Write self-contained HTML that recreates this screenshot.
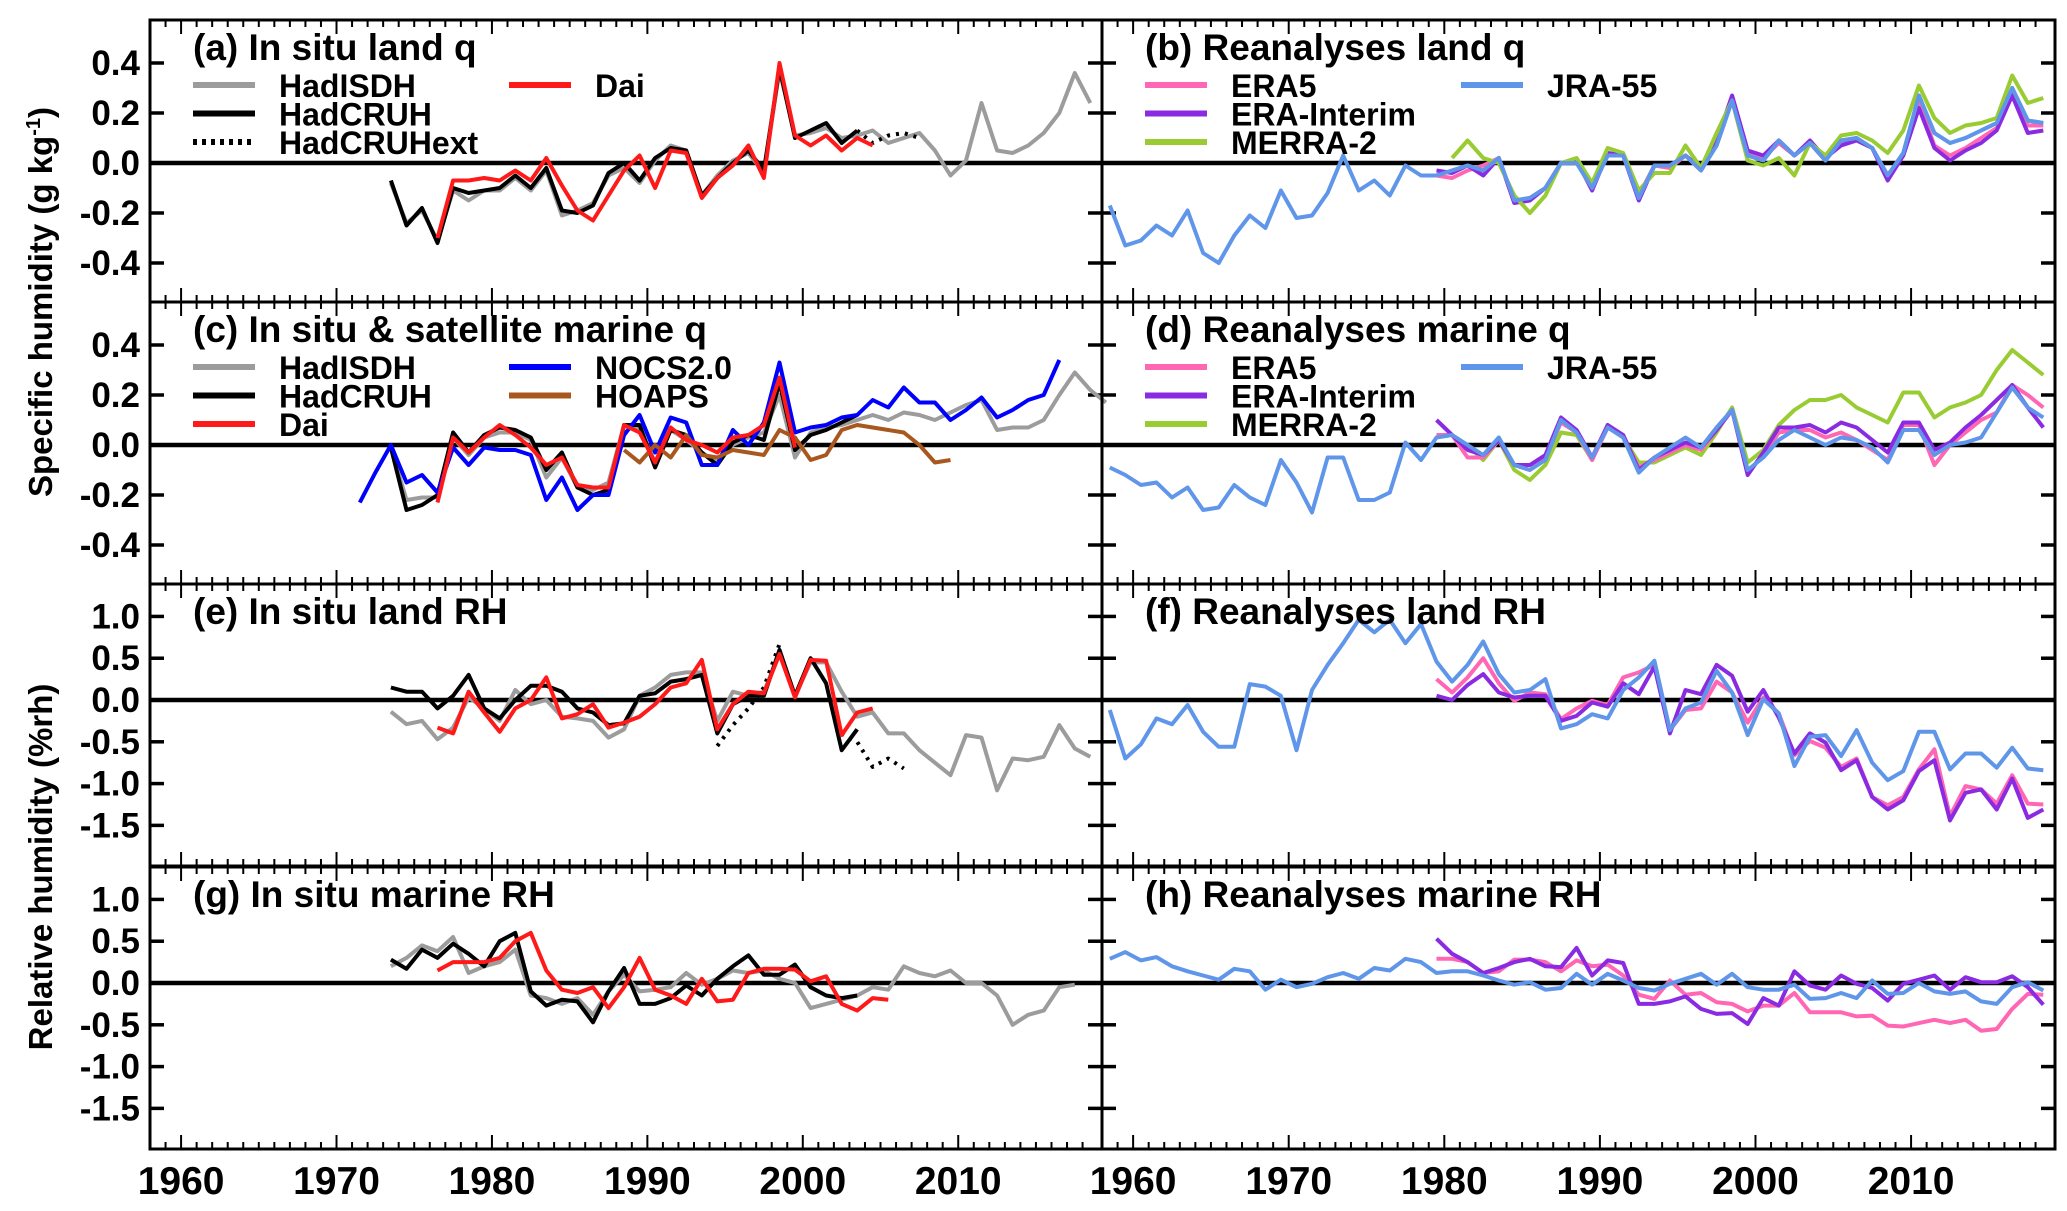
<!DOCTYPE html>
<html><head><meta charset="utf-8"><style>
html,body{margin:0;padding:0;background:#fff;}
svg{display:block;font-family:"Liberation Sans",sans-serif;font-weight:bold;}
</style></head><body>
<svg id="chart" width="2067" height="1211" viewBox="0 0 2067 1211" xmlns="http://www.w3.org/2000/svg">
<rect width="2067" height="1211" fill="#fff"/>
<text transform="translate(52,302) rotate(-90)" text-anchor="middle" font-size="33" font-family="Liberation Sans" font-weight="bold">Specific humidity (g kg<tspan font-size="20" dy="-12">-1</tspan><tspan dy="12">)</tspan></text>
<text transform="translate(52,867) rotate(-90)" text-anchor="middle" font-size="33" font-family="Liberation Sans" font-weight="bold">Relative humidity (%rh)</text>
<g id="plots"></g>
</svg>
<script>
// ---- data (annual anomalies, plotted at mid-year) ----
const aHadISDHStart=1973;
const aHadISDH=[-0.08,-0.24,-0.19,-0.31,-0.11,-0.15,-0.11,-0.11,-0.06,-0.11,-0.03,-0.21,-0.19,-0.16,-0.05,-0.02,-0.08,0.01,0.07,0.05,-0.13,-0.05,0.01,0.04,-0.04,0.37,0.11,0.12,0.14,0.10,0.11,0.13,0.08,0.10,0.12,0.05,-0.05,0.01,0.24,0.05,0.04,0.07,0.12,0.20,0.36,0.24];
const aHadCRUHStart=1973;
const aHadCRUH=[-0.07,-0.25,-0.18,-0.32,-0.10,-0.12,-0.11,-0.10,-0.05,-0.10,-0.02,-0.19,-0.20,-0.17,-0.04,0.00,-0.07,0.02,0.06,0.05,-0.13,-0.06,0.00,0.05,-0.03,0.38,0.10,0.13,0.16,0.08,0.13];
const aHadCRUHextStart=2003;
const aHadCRUHext=[0.13,0.08,0.11,0.12,0.10];
const aDaiStart=1976;
const aDai=[-0.30,-0.07,-0.07,-0.06,-0.07,-0.03,-0.07,0.02,-0.09,-0.19,-0.23,-0.13,-0.03,0.03,-0.10,0.05,0.04,-0.14,-0.06,-0.01,0.07,-0.06,0.40,0.11,0.07,0.11,0.05,0.10,0.07];

const bJRAStart=1958;
const bJRA=[-0.17,-0.33,-0.31,-0.25,-0.29,-0.19,-0.36,-0.40,-0.29,-0.21,-0.26,-0.11,-0.22,-0.21,-0.12,0.03,-0.11,-0.07,-0.13,-0.01,-0.05,-0.05,-0.03,-0.01,-0.03,0.02,-0.15,-0.14,-0.10,0.00,0.00,-0.10,0.03,0.03,-0.14,-0.01,-0.01,0.03,-0.03,0.07,0.25,0.03,0.01,0.09,0.03,0.08,0.01,0.09,0.10,0.06,-0.05,0.04,0.27,0.12,0.08,0.10,0.13,0.16,0.30,0.17,0.16];
const bERA5Start=1979;
const bERA5=[-0.05,-0.06,-0.03,-0.01,0.02,-0.16,-0.14,-0.10,0.00,0.01,-0.09,0.04,0.03,-0.13,-0.01,-0.02,0.03,-0.03,0.08,0.25,0.04,0.02,0.08,0.03,0.08,0.02,0.08,0.10,0.06,-0.05,0.03,0.24,0.07,0.03,0.06,0.10,0.14,0.28,0.15,0.15];
const bERAIStart=1979;
const bERAI=[-0.03,-0.04,-0.01,-0.05,0.02,-0.16,-0.15,-0.10,0.00,0.01,-0.11,0.04,0.03,-0.15,-0.01,-0.01,0.03,-0.02,0.09,0.27,0.05,0.03,0.09,0.03,0.09,0.02,0.07,0.09,0.06,-0.07,0.03,0.22,0.06,0.01,0.05,0.08,0.13,0.27,0.12,0.13];
const bMERRAStart=1980;
const bMERRA=[0.02,0.09,0.02,0.00,-0.13,-0.20,-0.13,0.00,0.02,-0.08,0.06,0.04,-0.11,-0.04,-0.04,0.07,-0.02,0.12,0.25,0.01,-0.01,0.02,-0.05,0.08,0.03,0.11,0.12,0.09,0.04,0.13,0.31,0.18,0.12,0.15,0.16,0.18,0.35,0.24,0.26];

const cHadISDHStart=1973;
const cHadISDH=[-0.01,-0.22,-0.21,-0.21,0.03,-0.04,0.03,0.05,0.05,0.02,-0.13,-0.05,-0.17,-0.18,-0.15,0.08,0.07,-0.07,0.06,0.02,-0.03,-0.07,0.00,0.03,0.05,0.20,-0.05,0.05,0.07,0.08,0.10,0.12,0.10,0.13,0.12,0.10,0.13,0.16,0.18,0.06,0.07,0.07,0.10,0.20,0.29,0.22,0.17];
const cHadCRUHStart=1973;
const cHadCRUH=[-0.01,-0.26,-0.24,-0.20,0.05,-0.03,0.04,0.07,0.06,0.03,-0.10,-0.03,-0.17,-0.20,-0.18,0.08,0.08,-0.09,0.06,0.04,-0.03,-0.08,0.01,0.04,0.02,0.25,-0.02,0.04,0.06,0.09,0.12];
const cDaiStart=1976;
const cDai=[-0.23,0.03,-0.03,0.03,0.08,0.04,-0.01,-0.08,-0.05,-0.16,-0.17,-0.17,0.08,0.05,-0.07,0.07,0.02,0.00,-0.03,0.03,0.04,0.08,0.27,-0.01];
const cNOCSStart=1971;
const cNOCS=[-0.23,-0.11,0.00,-0.15,-0.12,-0.19,-0.01,-0.08,-0.01,-0.02,-0.02,-0.04,-0.22,-0.13,-0.26,-0.20,-0.20,0.04,0.12,-0.03,0.11,0.09,-0.08,-0.08,0.06,0.00,0.09,0.33,0.05,0.07,0.08,0.11,0.12,0.18,0.15,0.23,0.17,0.17,0.10,0.14,0.19,0.11,0.14,0.18,0.20,0.34];
const cHOAPSStart=1988;
const cHOAPS=[-0.02,-0.07,0.00,-0.05,0.04,-0.04,-0.05,-0.02,-0.03,-0.04,0.06,0.03,-0.06,-0.04,0.06,0.08,0.07,0.06,0.05,0.00,-0.07,-0.06];

const dJRAStart=1958;
const dJRA=[-0.09,-0.12,-0.16,-0.15,-0.21,-0.17,-0.26,-0.25,-0.16,-0.21,-0.24,-0.06,-0.15,-0.27,-0.05,-0.05,-0.22,-0.22,-0.19,0.01,-0.06,0.03,0.04,0.00,-0.04,0.03,-0.08,-0.10,-0.06,0.10,0.05,-0.05,0.07,0.03,-0.11,-0.05,-0.01,0.03,-0.01,0.07,0.14,-0.10,-0.05,0.02,0.06,0.03,0.00,0.03,0.02,-0.01,-0.07,0.06,0.06,-0.04,0.00,0.01,0.03,0.13,0.23,0.15,0.11];
const dERA5Start=1979;
const dERA5=[0.04,0.04,-0.05,-0.05,0.02,-0.08,-0.10,-0.05,0.09,0.05,-0.06,0.07,0.03,-0.09,-0.06,-0.03,0.00,-0.02,0.06,0.14,-0.11,-0.04,0.05,0.06,0.06,0.03,0.05,0.02,-0.02,-0.06,0.08,0.08,-0.08,0.00,0.05,0.10,0.13,0.24,0.20,0.15];
const dERAIStart=1979;
const dERAI=[0.10,0.04,-0.02,-0.04,0.02,-0.08,-0.08,-0.04,0.11,0.06,-0.05,0.08,0.04,-0.10,-0.05,-0.02,0.01,-0.01,0.06,0.14,-0.12,-0.03,0.07,0.07,0.08,0.05,0.09,0.07,0.02,-0.03,0.09,0.09,-0.02,0.01,0.07,0.12,0.18,0.24,0.15,0.07];
const dMERRAStart=1980;
const dMERRA=[0.04,0.00,-0.06,0.02,-0.10,-0.14,-0.08,0.05,0.04,-0.06,0.08,0.03,-0.07,-0.07,-0.04,-0.01,-0.04,0.05,0.15,-0.07,-0.02,0.08,0.14,0.18,0.18,0.20,0.15,0.12,0.09,0.21,0.21,0.11,0.15,0.17,0.20,0.30,0.38,0.33,0.28];

const eHadISDHStart=1973;
const eHadISDH=[-0.14,-0.29,-0.25,-0.47,-0.33,0.03,-0.10,-0.25,0.12,-0.05,0.00,-0.20,-0.22,-0.25,-0.45,-0.35,0.05,0.15,0.30,0.33,0.33,-0.25,0.10,0.05,0.10,0.55,0.05,0.45,0.45,0.10,-0.20,-0.15,-0.40,-0.40,-0.60,-0.75,-0.90,-0.42,-0.45,-1.08,-0.70,-0.72,-0.68,-0.30,-0.58,-0.68];
const eHadCRUHStart=1973;
const eHadCRUH=[0.15,0.10,0.10,-0.10,0.05,0.30,-0.10,-0.22,0.00,0.17,0.17,0.10,-0.10,-0.15,-0.30,-0.28,0.05,0.08,0.22,0.25,0.30,-0.40,-0.05,0.05,0.05,0.60,0.05,0.50,0.20,-0.60,-0.35];
const eExt1Start=1994;
const eExt1=[-0.55,-0.30,-0.10,0.15,0.67];
const eExt2Start=2002;
const eExt2=[-0.40,-0.50,-0.80,-0.70,-0.82];
const eDaiStart=1976;
const eDai=[-0.33,-0.40,0.10,-0.15,-0.38,-0.10,0.00,0.27,-0.22,-0.17,-0.05,-0.33,-0.27,-0.20,-0.05,0.15,0.20,0.48,-0.35,-0.05,0.10,0.08,0.55,0.03,0.48,0.47,-0.42,-0.15,-0.10];

const fJRAStart=1958;
const fJRA=[-0.12,-0.70,-0.53,-0.22,-0.29,-0.06,-0.38,-0.56,-0.56,0.19,0.16,0.05,-0.60,0.12,0.42,0.68,0.96,0.81,0.96,0.68,0.91,0.46,0.22,0.42,0.70,0.31,0.09,0.12,0.25,-0.34,-0.29,-0.17,-0.22,0.12,0.27,0.47,-0.36,-0.10,-0.03,0.35,0.09,-0.42,0.01,-0.16,-0.79,-0.44,-0.42,-0.67,-0.36,-0.75,-0.96,-0.85,-0.38,-0.38,-0.83,-0.64,-0.64,-0.81,-0.57,-0.82,-0.84];
const fERA5Start=1979;
const fERA5=[0.25,0.09,0.27,0.50,0.20,-0.01,0.09,0.07,-0.23,-0.10,-0.01,-0.06,0.27,0.33,0.42,-0.36,-0.12,-0.10,0.22,0.09,-0.27,0.03,-0.16,-0.66,-0.49,-0.57,-0.80,-0.70,-1.16,-1.26,-1.16,-0.83,-0.59,-1.39,-1.03,-1.07,-1.24,-0.90,-1.24,-1.25];
const fERAIStart=1979;
const fERAI=[0.05,0.00,0.18,0.31,0.09,0.03,0.05,0.05,-0.25,-0.19,-0.03,-0.08,0.20,0.07,0.40,-0.40,0.12,0.07,0.42,0.29,-0.14,0.12,-0.21,-0.64,-0.40,-0.51,-0.84,-0.72,-1.16,-1.31,-1.20,-0.85,-0.72,-1.44,-1.11,-1.07,-1.31,-0.94,-1.41,-1.31];

const gHadISDHStart=1973;
const gHadISDH=[0.20,0.30,0.45,0.38,0.55,0.12,0.20,0.25,0.40,-0.15,-0.18,-0.25,-0.18,-0.38,-0.10,0.10,-0.10,-0.08,-0.05,0.12,-0.02,0.05,0.15,0.12,0.15,0.05,0.00,-0.30,-0.25,-0.20,-0.15,-0.05,-0.08,0.20,0.12,0.08,0.15,0.00,0.00,-0.15,-0.50,-0.38,-0.33,-0.05,-0.02];
const gHadCRUHStart=1973;
const gHadCRUH=[0.28,0.17,0.40,0.30,0.47,0.35,0.20,0.50,0.60,-0.10,-0.27,-0.20,-0.22,-0.47,-0.10,0.18,-0.25,-0.25,-0.18,-0.03,-0.15,0.05,0.20,0.33,0.10,0.10,0.22,-0.05,-0.15,-0.18,-0.15];
const gDaiStart=1976;
const gDai=[0.15,0.25,0.25,0.25,0.30,0.50,0.60,0.15,-0.08,-0.12,-0.05,-0.30,-0.05,0.30,-0.08,-0.15,-0.25,0.05,-0.22,-0.20,0.12,0.17,0.17,0.16,0.02,0.08,-0.25,-0.33,-0.18,-0.20];

const hJRAStart=1958;
const hJRA=[0.29,0.37,0.27,0.31,0.20,0.14,0.09,0.04,0.17,0.14,-0.08,0.04,-0.05,-0.01,0.07,0.12,0.05,0.18,0.15,0.29,0.25,0.12,0.14,0.14,0.09,0.03,-0.02,0.01,-0.08,-0.06,0.11,-0.02,0.11,0.03,-0.06,-0.09,-0.01,0.05,0.11,-0.02,0.11,-0.05,-0.08,-0.08,-0.02,-0.19,-0.18,-0.12,-0.18,0.03,-0.13,-0.12,0.00,-0.10,-0.13,-0.10,-0.22,-0.25,-0.05,0.01,-0.09];
const hERA5Start=1979;
const hERA5=[0.29,0.29,0.25,0.12,0.14,0.28,0.28,0.25,0.14,0.27,0.20,0.22,0.09,-0.14,-0.19,0.03,-0.14,-0.12,-0.23,-0.25,-0.34,-0.27,-0.27,-0.12,-0.35,-0.35,-0.35,-0.40,-0.39,-0.51,-0.52,-0.48,-0.44,-0.48,-0.44,-0.57,-0.55,-0.31,-0.13,-0.14];
const hERAIStart=1979;
const hERAI=[0.53,0.35,0.25,0.12,0.18,0.25,0.29,0.20,0.19,0.42,0.09,0.27,0.24,-0.25,-0.25,-0.22,-0.16,-0.31,-0.37,-0.36,-0.49,-0.18,-0.27,0.14,-0.03,-0.08,0.09,-0.01,-0.06,-0.21,-0.01,0.04,0.09,-0.08,0.07,0.01,0.01,0.08,-0.05,-0.26];

const qTicks=["0.4","0.2","0.0","-0.2","-0.4"];
const rhTicks=["1.0","0.5","0.0","-0.5","-1.0","-1.5"];
const yearTicks=["1960","1970","1980","1990","2000","2010"];

// ---- layout ----
const NS="http://www.w3.org/2000/svg";
const root=document.getElementById('plots');
const X0=[150,1102], X1=[1102,2055];
const ROWS=[20,302,584,867], RH=282;
const YR0=1958.0, YR1=2019.25;
const C={gray:"#9c9c9c",black:"#000",red:"#ff1a1a",blue:"#0000ff",brown:"#a8581e",pink:"#ff66b3",purple:"#8a2be2",green:"#99cc33",jra:"#5f96ea"};

function el(tag,attrs,parent){const e=document.createElementNS(NS,tag);for(const k in attrs)e.setAttribute(k,attrs[k]);(parent||root).appendChild(e);return e;}
function xs(col){return yr=>X0[col]+(yr-YR0)/(YR1-YR0)*(X1[col]-X0[col]);}
function ysFn(row,type){const top=ROWS[row];
  if(type==='q'){const hi=0.572,lo=-0.556;return v=>top+(hi-v)/(hi-lo)*RH;}
  const hi=1.388,lo=-1.986;return v=>top+(hi-v)/(hi-lo)*RH;}

const panels=[
 {id:'a',row:0,col:0,type:'q',title:'(a) In situ land q',series:[
   ['hadisdh',aHadISDH,aHadISDHStart,C.gray,''],['hadcruh',aHadCRUH,aHadCRUHStart,C.black,''],['hadcruhext',aHadCRUHext,aHadCRUHextStart,C.black,'3,6'],['dai',aDai,aDaiStart,C.red,'']],
  legend:[['HadISDH',C.gray,'',0,0],['HadCRUH',C.black,'',0,1],['HadCRUHext',C.black,'3,6',0,2],['Dai',C.red,'',1,0]]},
 {id:'b',row:0,col:1,type:'q',title:'(b) Reanalyses land q',series:[
   ['jra55',bJRA,bJRAStart,C.jra,''],['era5',bERA5,bERA5Start,C.pink,''],['era-interim',bERAI,bERAIStart,C.purple,''],['merra2',bMERRA,bMERRAStart,C.green,''],['jra55-top',bJRA.slice(21),bJRAStart+21,C.jra,'']],
  legend:[['ERA5',C.pink,'',0,0],['ERA-Interim',C.purple,'',0,1],['MERRA-2',C.green,'',0,2],['JRA-55',C.jra,'',1,0]]},
 {id:'c',row:1,col:0,type:'q',title:'(c) In situ & satellite marine q',series:[
   ['hadisdh',cHadISDH,cHadISDHStart,C.gray,''],['hadcruh',cHadCRUH,cHadCRUHStart,C.black,''],['nocs',cNOCS,cNOCSStart,C.blue,''],['hoaps',cHOAPS,cHOAPSStart,C.brown,''],['dai',cDai,cDaiStart,C.red,'']],
  legend:[['HadISDH',C.gray,'',0,0],['HadCRUH',C.black,'',0,1],['Dai',C.red,'',0,2],['NOCS2.0',C.blue,'',1,0],['HOAPS',C.brown,'',1,1]]},
 {id:'d',row:1,col:1,type:'q',title:'(d) Reanalyses marine q',series:[
   ['merra2',dMERRA,dMERRAStart,C.green,''],['era5',dERA5,dERA5Start,C.pink,''],['era-interim',dERAI,dERAIStart,C.purple,''],['jra55',dJRA,dJRAStart,C.jra,'']],
  legend:[['ERA5',C.pink,'',0,0],['ERA-Interim',C.purple,'',0,1],['MERRA-2',C.green,'',0,2],['JRA-55',C.jra,'',1,0]]},
 {id:'e',row:2,col:0,type:'rh',title:'(e) In situ land RH',series:[
   ['hadisdh',eHadISDH,eHadISDHStart,C.gray,''],['hadcruh',eHadCRUH,eHadCRUHStart,C.black,''],['hadcruhext-1',eExt1,eExt1Start,C.black,'3,6'],['hadcruhext-2',eExt2,eExt2Start,C.black,'3,6'],['dai',eDai,eDaiStart,C.red,'']],legend:[]},
 {id:'f',row:2,col:1,type:'rh',title:'(f) Reanalyses land RH',series:[
   ['era5',fERA5,fERA5Start,C.pink,''],['era-interim',fERAI,fERAIStart,C.purple,''],['jra55',fJRA,fJRAStart,C.jra,'']],legend:[]},
 {id:'g',row:3,col:0,type:'rh',title:'(g) In situ marine RH',series:[
   ['hadisdh',gHadISDH,gHadISDHStart,C.gray,''],['hadcruh',gHadCRUH,gHadCRUHStart,C.black,''],['dai',gDai,gDaiStart,C.red,'']],legend:[]},
 {id:'h',row:3,col:1,type:'rh',title:'(h) Reanalyses marine RH',series:[
   ['era5',hERA5,hERA5Start,C.pink,''],['era-interim',hERAI,hERAIStart,C.purple,''],['jra55',hJRA,hJRAStart,C.jra,'']],legend:[]}
];

panels.forEach(p=>{
  const x=xs(p.col), y=ysFn(p.row,p.type);
  const top=ROWS[p.row], bot=top+RH, L=X0[p.col], R=X1[p.col];
  const g=el('g',{});
  
  
  const z=el('line',{x1:L,x2:R,y1:y(0),y2:y(0),stroke:'#000','stroke-width':4.5},g);
  
  
  const ticks=p.type==='q'?qTicks:rhTicks;
  ticks.forEach(t=>{const v=parseFloat(t),yy=y(v);
    el('line',{x1:L,x2:L+14,y1:yy,y2:yy,stroke:'#000','stroke-width':3.5},g);
    el('line',{x1:R-14,x2:R,y1:yy,y2:yy,stroke:'#000','stroke-width':3.5},g);
    if(p.col===0){const tx=el('text',{x:L-10,y:yy+12,'text-anchor':'end','font-size':35},g);tx.textContent=t;
      
      }
  });
  for(let yr=1959;yr<=2018;yr++){const xx=x(yr),maj=yr%10===0,len=maj?14:7;
    el('line',{x1:xx,x2:xx,y1:top,y2:top+len,stroke:'#000','stroke-width':2},g);
    el('line',{x1:xx,x2:xx,y1:bot,y2:bot-len,stroke:'#000','stroke-width':2},g);}
  if(p.row===3){yearTicks.forEach(t=>{const tx=el('text',{x:x(+t),y:1194,'text-anchor':'middle','font-size':39},g);tx.textContent=t;
      
      });}
  p.series.forEach(s=>{const [nm,vals,start,col,dash]=s;
    const pts=vals.map((v,i)=>x(start+i+0.5).toFixed(1)+','+y(v).toFixed(1)).join(' ');
    const pl=el('polyline',{points:pts,fill:'none',stroke:col,'stroke-width':4,'stroke-linejoin':'round'},g);
    if(dash)pl.setAttribute('stroke-dasharray',dash);
    
    
  });
  const tt=el('text',{x:L+43,y:top+40,'font-size':37},g);tt.textContent=p.title;
  
  
  p.legend.forEach(le=>{const [lab,col,dash,c,r]=le;
    const lx=L+43+c*316, ly=top+65+r*28.5;
    const lg=el('g',{},g);
    
    
    const ln=el('line',{x1:lx,x2:lx+62,y1:ly,y2:ly,stroke:col,'stroke-width':6},lg);
    if(dash)ln.setAttribute('stroke-dasharray','4,5');
    const t=el('text',{x:lx+86,y:ly+12,'font-size':32},lg);t.textContent=lab;
  });
  const fr=el('rect',{x:L,y:top,width:R-L,height:RH,fill:'none',stroke:'#000','stroke-width':3},g);
  
  
});
</script>
</body></html>
